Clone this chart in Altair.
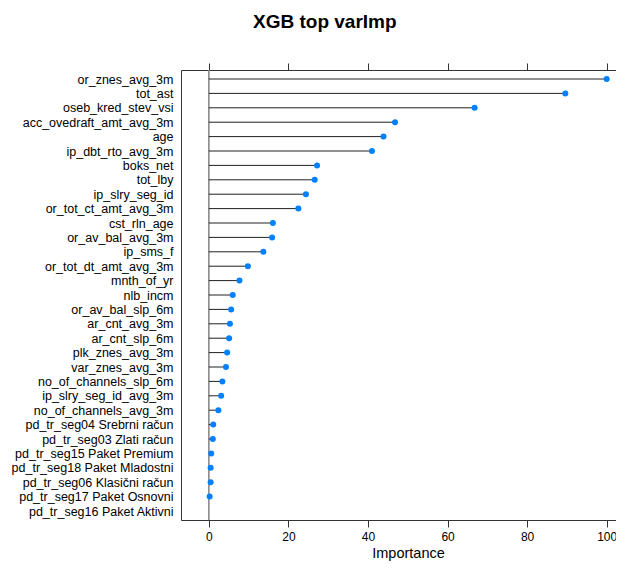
import altair as alt
import pandas as pd

features = [
    "or_znes_avg_3m", "tot_ast", "oseb_kred_stev_vsi", "acc_ovedraft_amt_avg_3m", "age",
    "ip_dbt_rto_avg_3m", "boks_net", "tot_lby", "ip_slry_seg_id", "or_tot_ct_amt_avg_3m",
    "cst_rln_age", "or_av_bal_avg_3m", "ip_sms_f", "or_tot_dt_amt_avg_3m", "mnth_of_yr",
    "nlb_incm", "or_av_bal_slp_6m", "ar_cnt_avg_3m", "ar_cnt_slp_6m", "plk_znes_avg_3m",
    "var_znes_avg_3m", "no_of_channels_slp_6m", "ip_slry_seg_id_avg_3m", "no_of_channels_avg_3m",
    "pd_tr_seg04 Srebrni račun", "pd_tr_seg03 Zlati račun", "pd_tr_seg15 Paket Premium",
    "pd_tr_seg18 Paket Mladostni", "pd_tr_seg06 Klasični račun", "pd_tr_seg17 Paket Osnovni",
    "pd_tr_seg16 Paket Aktivni",
]
importance = [
    100.0, 89.6, 66.8, 46.8, 43.9,
    41.0, 27.2, 26.6, 24.4, 22.5,
    16.1, 15.9, 13.7, 9.8, 7.7,
    6.0, 5.6, 5.3, 5.1, 4.6,
    4.3, 3.4, 3.1, 2.4,
    1.1, 1.0, 0.6,
    0.45, 0.45, 0.2,
    None,
]
tick_values = [0, 20, 40, 60, 80, 100]

df = pd.DataFrame({"feature": features, "importance": importance})
df["zero"] = 0.0
zero_df = pd.DataFrame({"z": [0.0]})

FONT = "Liberation Sans"
xscale = alt.Scale(domain=[-7, 102.34], nice=False, zero=False)
yscale = alt.Scale(type="point", domain=features, padding=0.625)
yaxis = alt.Axis(title=None, ticks=False, labelPadding=8, labelFontSize=12.5,
                 labelFont=FONT, labelColor="black", domainColor="#333333",
                 domainWidth=1, grid=False)

stems = alt.Chart(df).transform_filter("isValid(datum.importance)").mark_rule(
    color="#222222", strokeWidth=1
).encode(
    y=alt.Y("feature:N", scale=yscale, sort=features, axis=yaxis),
    x=alt.X("zero:Q", scale=xscale,
            axis=alt.Axis(orient="bottom", values=tick_values, title="Importance",
                          tickSize=7, tickColor="#333333", domainColor="#333333",
                          labelFontSize=12, labelFont=FONT, labelColor="black",
                          labelPadding=4, titleFont=FONT, titleFontSize=14.5,
                          titleFontWeight="normal", titleColor="black",
                          titlePadding=4, titleX=227, grid=False)),
    x2="importance:Q",
)

zero_line = alt.Chart(zero_df).mark_rule(color="#8a8a8a", strokeWidth=1.6).encode(
    x=alt.X("z:Q", scale=xscale,
            axis=alt.Axis(orient="top", values=tick_values, labels=False, title=None,
                          tickSize=7, tickColor="#333333", domainColor="#333333",
                          grid=False)),
)

points = alt.Chart(df).transform_filter("isValid(datum.importance)").mark_circle(
    color="#0080ff", size=36, opacity=1
).encode(
    y=alt.Y("feature:N", scale=yscale, sort=features, axis=yaxis),
    x=alt.X("importance:Q", scale=xscale, axis=None),
)

chart = alt.layer(zero_line, stems, points).resolve_axis(x="independent").properties(
    width=435,
    height=450,
    autosize=alt.AutoSizeParams(type="none"),
    padding={"left": 173, "top": 62, "right": 0, "bottom": 44},
    title=alt.TitleParams("XGB top varImp", font=FONT, fontSize=19, fontWeight="bold",
                          color="black", anchor="start", frame="group", dx=72,
                          offset=31),
).configure_view(stroke=None)

chart.save("out.html", embed_options={"renderer": "svg", "actions": False})
